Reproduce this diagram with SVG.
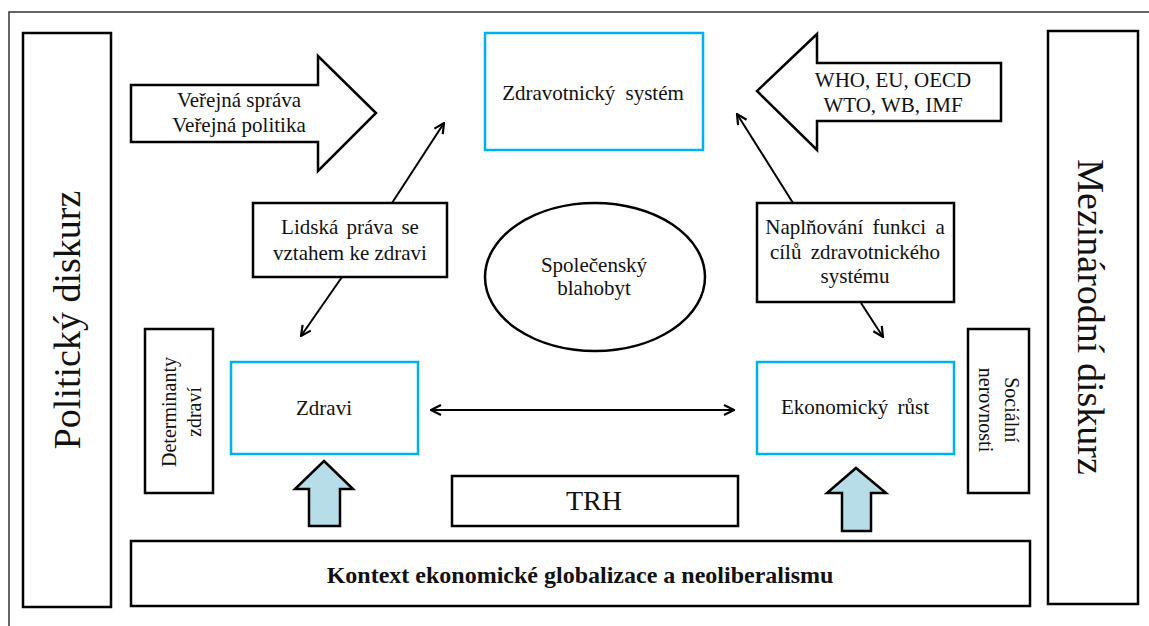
<svg xmlns="http://www.w3.org/2000/svg" width="1149" height="626" viewBox="0 0 1149 626">
  <style>
    .box { fill: #fff; stroke: #000; stroke-width: 2.5; }
    .blue { fill: #fff; stroke: #00b0f0; stroke-width: 2.5; }
    .big { fill: #fff; stroke: #000; stroke-width: 2.5; stroke-linejoin: miter; }
    .up { fill: #b7dde8; stroke: #000; stroke-width: 2.5; stroke-linejoin: miter; }
    .link { fill: none; stroke: #000; stroke-width: 2; }
    text { font-family: "Liberation Serif", "Times New Roman", serif; fill: #111; }
    .t { font-size: 21px; text-anchor: middle; }
    .side { font-size: 38px; text-anchor: middle; }
    .small { font-size: 20px; text-anchor: middle; }
  </style>
  <defs>
    <marker id="head" viewBox="0 0 12 12" refX="11" refY="6" markerWidth="12" markerHeight="12" markerUnits="userSpaceOnUse" orient="auto-start-reverse">
      <path d="M1,1 L11,6 L1,11" fill="none" stroke="#000" stroke-width="2.2"/>
    </marker>
  </defs>

  <!-- outer frame -->
  <path d="M9,626 V12 H1149" fill="none" stroke="#333" stroke-width="1.5"/>

  <g id="politicky-diskurz">
    <rect class="box" x="23" y="33" width="88" height="574"/>
    <text class="side" transform="translate(80,320) rotate(-90)">Politický diskurz</text>
  </g>

  <g id="mezinarodni-diskurz">
    <rect class="box" x="1048" y="31" width="90" height="573"/>
    <text class="side" transform="translate(1078,317) rotate(90)">Mezinárodní diskurz</text>
  </g>

  <g id="verejna-sprava">
    <polygon class="big" points="131,85 318,85 318,56 376,113 318,171 318,142 131,142"/>
    <text class="t" x="239" y="107">Veřejná správa</text>
    <text class="t" x="239" y="132">Veřejná politika</text>
  </g>

  <g id="mezinarodni-organizace">
    <polygon class="big" points="1001,63 817,63 817,34 757,91 817,150 817,121 1001,121"/>
    <text class="t" x="893" y="87">WHO, EU, OECD</text>
    <text class="t" x="893" y="112">WTO, WB, IMF</text>
  </g>

  <g id="zdravotnicky-system">
    <rect class="blue" x="485" y="33" width="218" height="117"/>
    <text class="t" x="593" y="100" word-spacing="5">Zdravotnický systém</text>
  </g>

  <g id="lidska-prava">
    <rect class="box" x="253" y="203" width="194" height="74"/>
    <text class="t" x="350" y="234" word-spacing="3">Lidská práva se</text>
    <text class="t" x="350" y="260">vztahem ke zdravi</text>
  </g>

  <g id="spolecensky-blahobyt">
    <ellipse class="box" cx="595" cy="277" rx="110" ry="74" stroke-width="3"/>
    <text class="t" x="594" y="272">Společenský</text>
    <text class="t" x="594" y="295">blahobyt</text>
  </g>

  <g id="naplnovani">
    <rect class="box" x="757" y="203" width="197" height="99"/>
    <text class="t" x="855" y="234" word-spacing="4">Naplňování funkci a</text>
    <text class="t" x="855" y="259" word-spacing="4">cílů zdravotnického</text>
    <text class="t" x="855" y="283">systému</text>
  </g>

  <g id="determinanty-zdravi">
    <rect class="box" x="145" y="329" width="68" height="164"/>
    <text class="small" transform="translate(176,412) rotate(-90)">Determinanty<tspan x="0" dy="25">zdraví</tspan></text>
  </g>

  <g id="zdravi">
    <rect class="blue" x="231" y="362" width="187" height="92"/>
    <text class="t" x="324" y="415">Zdravi</text>
  </g>

  <g id="ekonomicky-rust">
    <rect class="blue" x="757" y="362" width="197" height="92"/>
    <text class="t" x="855" y="414" word-spacing="4">Ekonomický růst</text>
  </g>

  <g id="socialni-nerovnosti">
    <rect class="box" x="968" y="329" width="61" height="164"/>
    <text class="small" transform="translate(1005,410) rotate(90)">Sociální<tspan x="0" dy="26">nerovnosti</tspan></text>
  </g>

  <g id="trh">
    <rect class="box" x="452" y="476" width="286" height="50"/>
    <text x="594" y="510" font-size="28" text-anchor="middle">TRH</text>
  </g>

  <g id="kontext">
    <rect class="box" x="131" y="541" width="899" height="65"/>
    <text x="580" y="583" font-size="24" font-weight="bold" text-anchor="middle">Kontext ekonomické globalizace a neoliberalismu</text>
  </g>

  <g id="vliv-trhu">
    <polygon class="up" points="324,461 353,489 340,489 340,526 309,526 309,489 295,489"/>
    <polygon class="up" points="856,468 886,493 871,493 871,531 842,531 842,493 827,493"/>
  </g>

  <g id="connectors">
    <line class="link" x1="392" y1="203" x2="444" y2="123" marker-end="url(#head)"/>
    <line class="link" x1="342" y1="277" x2="301" y2="336" marker-end="url(#head)"/>
    <line class="link" x1="793" y1="203" x2="737" y2="114" marker-end="url(#head)"/>
    <line class="link" x1="861" y1="303" x2="883" y2="337" marker-end="url(#head)"/>
    <line class="link" x1="431" y1="410" x2="734" y2="410" marker-start="url(#head)" marker-end="url(#head)"/>
  </g>
</svg>
